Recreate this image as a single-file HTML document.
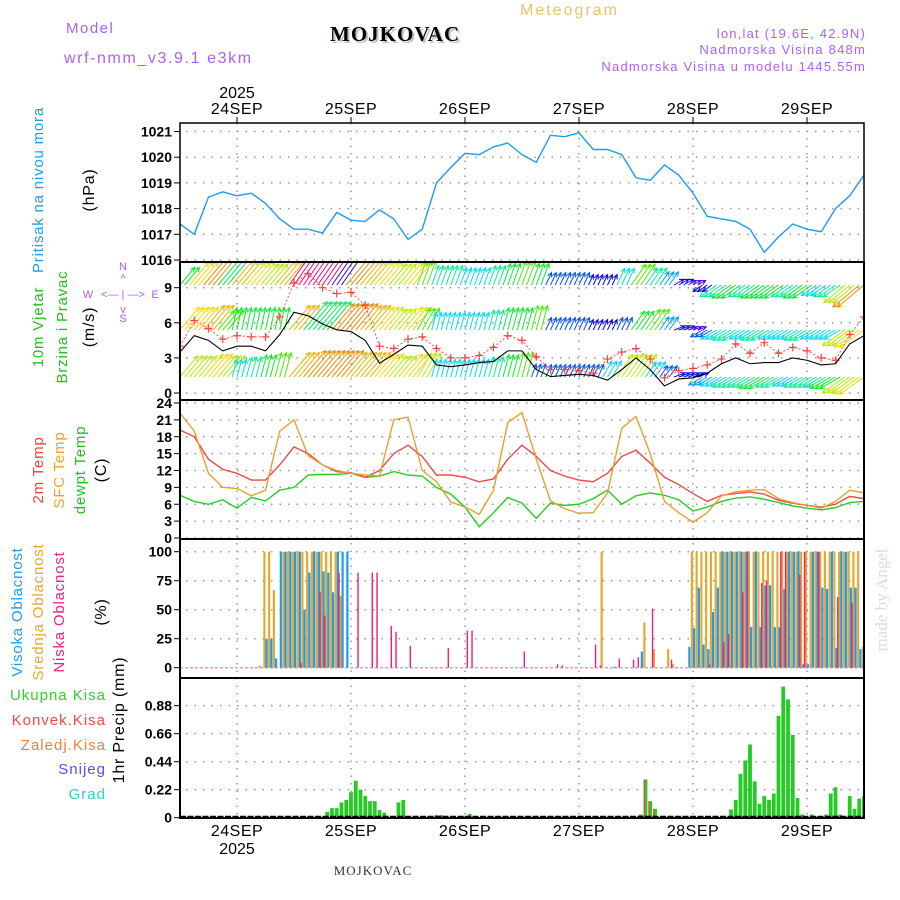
<!DOCTYPE html>
<html><head><meta charset="utf-8">
<style>
html,body{margin:0;padding:0;background:#fff;}
svg{display:block;font-family:"Liberation Sans",sans-serif;}
</style></head>
<body>
<svg id="chart" width="900" height="900" viewBox="0 0 900 900" xmlns="http://www.w3.org/2000/svg">
<defs>
<clipPath id="c1"><rect x="180" y="123" width="684" height="139"/></clipPath>
<clipPath id="c2"><rect x="180" y="262" width="684" height="138"/></clipPath>
<clipPath id="c3"><rect x="180" y="400" width="684" height="139"/></clipPath>
<clipPath id="c4"><rect x="180" y="539" width="684" height="139"/></clipPath>
<clipPath id="c5"><rect x="180" y="678" width="684" height="140"/></clipPath>
</defs>
<text x="66" y="33" font-size="15" fill="#b060f0" letter-spacing="1.5">Model</text>
<text x="64" y="63" font-size="16" fill="#b060f0" letter-spacing="1.6">wrf-nmm_v3.9.1 e3km</text>
<text x="332" y="43" font-family="Liberation Serif,serif" font-weight="bold" font-size="21" fill="#b8c8b8" letter-spacing="1">MOJKOVAC</text>
<text x="330" y="41" font-family="Liberation Serif,serif" font-weight="bold" font-size="21" fill="#000" letter-spacing="1">MOJKOVAC</text>
<text x="520" y="15" font-size="16" fill="#f0c070" letter-spacing="2">Meteogram</text>
<text x="866" y="38" font-size="13" fill="#b060f0" text-anchor="end" letter-spacing="1.2">lon,lat (19.6E, 42.9N)</text>
<text x="866" y="54" font-size="13" fill="#b060f0" text-anchor="end" letter-spacing="1.2">Nadmorska Visina 848m</text>
<text x="866" y="71" font-size="13" fill="#b060f0" text-anchor="end" letter-spacing="1.2">Nadmorska Visina u modelu 1445.55m</text>
<text transform="translate(887,600) rotate(-90)" font-size="17" fill="#d8e0d8" text-anchor="middle" font-family="Liberation Serif,serif">made by Angel</text>
<g id="g"></g>
</svg>
<script>
// ===== data (time axis: hours from 23SEP 12UTC, every 3 h, 0..144) =====
const dayLabels = ["24SEP","25SEP","26SEP","27SEP","28SEP","29SEP"];
const dayHours = [12,36,60,84,108,132];
const pressTicks = [1016,1017,1018,1019,1020,1021];
const windTicks = [0,3,6,9];
const tempTicks = [0,3,6,9,12,15,18,21,24];
const cloudTicks = [0,25,50,75,100];
const precipTicks = [0,0.22,0.44,0.66,0.88];

const pressure = [1017.4,1017.0,1018.45,1018.65,1018.5,1018.6,1018.2,1017.6,1017.2,1017.2,1017.05,1017.85,1017.55,1017.5,1017.95,1017.6,1016.8,1017.2,1019.0,1019.6,1020.15,1020.1,1020.4,1020.55,1020.1,1019.8,1020.85,1020.8,1020.95,1020.3,1020.3,1020.1,1019.2,1019.1,1019.7,1019.3,1018.6,1017.7,1017.6,1017.5,1017.2,1016.3,1016.9,1017.4,1017.2,1017.1,1018.0,1018.5,1019.3];
const windSpeed = [3.5,4.9,4.5,3.6,4.0,4.0,3.6,5.0,6.9,6.6,5.9,5.4,5.25,4.5,2.55,3.3,4.1,4.0,2.4,2.25,2.4,2.6,2.7,3.6,3.6,2.0,1.4,1.5,1.6,1.5,1.1,2.0,3.0,2.0,0.6,1.2,1.3,1.7,2.5,3.0,2.5,2.6,2.6,3.0,2.8,2.4,2.5,4.2,4.9];
const windGust = [4.0,6.2,5.5,4.6,4.9,4.8,4.8,6.5,9.4,10.2,9.0,8.5,8.6,7.5,4.0,3.8,4.6,4.8,3.8,3.0,3.0,3.2,3.9,4.9,4.5,3.1,2.0,2.0,1.9,1.7,2.9,3.5,3.8,2.9,1.3,1.9,2.1,2.4,2.9,4.2,3.4,4.3,3.4,3.9,3.6,3.0,2.8,5.0,6.5];
const row1Speed = [10,13,15,16,14,13,12,14,20,21,20,17,15,14,13,12,13,11,9,9,8,8,9,10,11,10,6,6,6,5,5,8,11,9,7,5,4,5,9,10,9,10,10,9,10,8,9,12,15];
const row1Dir = [40,40,40,40,40,40,40,40,35,35,35,35,40,40,40,40,40,20,20,20,20,20,20,20,20,20,25,25,25,25,25,25,35,35,35,60,60,235,235,235,235,235,235,235,235,235,235,230,230];
const row2Speed = [13,13,14,11,10,10,10,10,14,16,16,15,15,14,13,12,13,11,8,8,8,8,9,10,10,11,6,6,6,5,5,6,10,11,7,5,4,6,8,9,8,9,8,8,9,8,8,12,13];
const row2Dir = [40,40,40,40,12,12,12,12,40,40,40,40,40,40,40,40,40,30,15,15,15,15,15,15,15,15,25,25,25,25,25,25,35,35,35,70,70,240,240,240,240,240,240,240,240,240,240,235,235];
const row3Speed = [12,12,13,12,8,9,10,11,14,15,15,15,14,14,13,12,13,12,8,8,8,8,9,10,11,6,6,6,6,6,8,12,12,8,6,5,5,7,8,9,9,10,9,8,9,9,10,12,13];
const row3Dir = [40,40,40,40,15,15,15,15,40,40,40,40,40,40,40,40,40,30,15,15,15,15,15,15,15,20,25,25,25,25,30,35,35,35,35,70,70,240,240,240,240,240,240,240,240,240,240,235,235];
const temp2m = [19.2,18.0,14.0,12.2,11.5,10.3,10.3,13.0,16.2,15.0,13.0,11.8,11.6,10.8,12.0,15.0,16.5,14.5,11.2,11.2,10.8,10.0,10.5,14.0,16.5,14.5,12.0,11.0,10.3,10.0,11.5,14.5,15.6,13.3,10.8,9.5,7.9,6.5,7.6,7.9,8.2,7.8,6.7,6.2,5.8,5.5,6.0,7.4,7.0];
const tempSfc = [22.2,19.0,11.5,9.0,8.8,7.5,8.5,19.0,21.0,14.6,13.0,12.0,11.5,11.2,11.0,21.0,21.5,12.0,10.0,6.4,5.5,4.2,8.5,20.5,22.3,14.0,6.6,5.2,4.4,4.5,8.0,19.5,21.6,15.0,6.5,4.5,2.8,4.5,7.5,8.2,8.5,8.6,7.0,6.3,5.8,5.3,6.5,8.5,8.0];
const tempDew = [7.6,6.5,6.0,6.8,5.3,7.2,6.6,8.5,9.0,11.2,11.3,11.3,11.5,10.8,11.0,11.8,11.2,11.0,9.0,7.8,5.5,2.0,4.5,7.2,6.2,3.5,6.2,5.8,6.0,7.0,8.5,6.0,7.5,8.0,7.6,6.8,4.8,5.5,6.5,7.1,7.3,6.9,6.3,5.7,5.3,5.0,5.4,6.3,6.5];

const highHours = [18,19,20,21,22,23,24,25,26,27,28,29,30,31,32,33,34,35,97,107,108,109,110,111,112,113,114,115,116,117,118,119,120,121,122,123,124,125,126,127,128,129,130,131,132,133,134,135,136,137,138,139,140,141,142,143];
const highVals  = [25,25,8,100,100,100,100,100,50,82,100,100,83,82,65,100,100,100,14,18,34,69,20,16,48,69,100,100,100,100,100,100,35,100,35,71,71,35,35,68,100,100,100,3,3,100,100,69,68,100,17,100,100,69,69,16];
const midHours = [17,18,19,20,22,23,24,25,26,27,28,29,30,31,32,33,34,89,98,100,103,104,108,109,110,111,112,113,114,115,116,117,118,119,120,121,122,123,124,125,126,127,128,129,130,131,132,133,134,135,136,137,138,139,140,141,142,143,144];
const midVals  = [2,100,100,67,100,100,100,100,100,100,100,100,100,100,100,100,62,100,39,16,16,3,100,100,100,100,100,100,100,100,100,100,100,100,100,100,100,100,100,100,100,100,100,100,100,100,100,100,100,100,100,100,100,100,100,100,100,100,18];
const lowHours = [25,29,30,33,37,40,41,44,45,48,56,60,61,72,79,80,87,88,91,92,95,96,99,103,111,114,115,118,119,122,123,126,127,130,131,134,138,141];
const lowVals  = [4,65,45,82,82,82,82,36,31,19,17,32,32,14,3,2,20,2,1,8,7,9,51,7,3,22,29,65,100,73,75,100,100,80,100,100,61,56];
const precipHours = [31,32,33,34,35,36,37,38,39,40,41,42,43,46,47,54,55,60,61,97,98,99,100,116,117,118,119,120,121,122,123,124,125,126,127,128,129,130,131,133,134,136,137,138,139,140,141,142,143,144];
const precipVals  = [0.045,0.075,0.075,0.12,0.14,0.2,0.29,0.22,0.17,0.13,0.13,0.06,0.04,0.12,0.14,0.02,0.02,0.015,0.03,0.025,0.3,0.13,0.07,0.065,0.14,0.345,0.45,0.575,0.285,0.11,0.17,0.14,0.19,0.8,1.03,0.93,0.65,0.155,0.025,0.025,0.01,0.025,0.19,0.24,0.025,0.01,0.17,0.07,0.15,0.17];
const convHours = [97,98,99,100];
const convVals = [0.025,0.3,0.13,0.07];

// ===== scales =====
const X0 = 180, X1 = 864, PXH = 4.75;
const xh = h => X0 + h * PXH;
const yP = p => 131.5 + (1021 - p) * 25.7;
const yW = v => 393 - v * 11.7;
const yT = t => 538 - t * 5.625;
const yC = c => 667.7 - c * 1.16;
const yR = r => 817.7 - r * 127.3;

const NS = "http://www.w3.org/2000/svg";
const root = document.getElementById("g");
function mk(tag, attrs, parent, txt) {
  const e = document.createElementNS(NS, tag);
  for (const k in attrs) e.setAttribute(k, attrs[k]);
  if (txt !== undefined) e.textContent = txt;
  (parent || root).appendChild(e);
  return e;
}
function grp(clip) { const g = mk("g", clip ? {"clip-path": "url(#" + clip + ")"} : {}); return g; }

const panels = [[123,262],[262,400],[400,539],[539,678],[678,818]];
let el;

// gridlines
const grid = grp();


dayHours.forEach((h) => {
  el = mk("line", {x1: xh(h), x2: xh(h), y1: 123, y2: 818, stroke: "#999", "stroke-width": 1.5, "stroke-dasharray": "1.5,6"}, grid);
  
  
});
function hgrid(ticks, f) {
  ticks.forEach(t => {
    el = mk("line", {x1: X0 + 6, x2: X1 - 2, y1: f(t), y2: f(t), stroke: "#999", "stroke-width": 1.5, "stroke-dasharray": "1.5,7"}, grid);
    
    
  });
}
hgrid(pressTicks, yP); hgrid(windTicks, yW); hgrid(tempTicks, yT); hgrid(cloudTicks.slice(1), yC); hgrid(precipTicks.slice(1), yR);

// y tick labels
function yticks(ticks, f, name, fmt) {
  ticks.forEach(t => {
    el = mk("text", {x: 172, y: f(t) + 5, "font-size": 14, "text-anchor": "end", fill: "#000", "font-weight": "bold"}, root, fmt ? fmt(t) : String(t));
    
    
    el = mk("line", {x1: 174, x2: 180, y1: f(t), y2: f(t), stroke: "#000", "stroke-width": 1}, root);
    
    
  });
}
yticks(pressTicks, yP, "pressure-tick-label");
yticks(windTicks, yW, "wind-tick-label");
yticks(tempTicks, yT, "temp-tick-label");
yticks(cloudTicks, yC, "cloud-tick-label");
yticks(precipTicks, yR, "precip-tick-label", t => t === 0 ? "0" : t.toFixed(2));

// x labels
dayLabels.forEach((d, i) => {
  el = mk("text", {x: xh(dayHours[i]), y: 114, "font-size": 16, "text-anchor": "middle", fill: "#000", "letter-spacing": "0.5"}, root, d);
  
  
  el = mk("text", {x: xh(dayHours[i]), y: 836, "font-size": 16, "text-anchor": "middle", fill: "#000", "letter-spacing": "0.5"}, root, d);
  
  
  el = mk("line", {x1: xh(dayHours[i]), x2: xh(dayHours[i]), y1: 117, y2: 123, stroke: "#000"}, root);
  
  
});
el = mk("text", {x: xh(12), y: 98, "font-size": 16, "text-anchor": "middle", fill: "#000"}, root, "2025");


el = mk("text", {x: xh(12), y: 854, "font-size": 16, "text-anchor": "middle", fill: "#000"}, root, "2025");


el = mk("text", {x: 373, y: 875, "font-size": 13, "text-anchor": "middle", fill: "#333", "font-family": "Liberation Serif,serif", "letter-spacing": "1"}, root, "MOJKOVAC");



// panel side labels
function vlabel(x, y, txt, color, name, size) {
  el = mk("text", {transform: "translate(" + x + "," + y + ") rotate(-90)", "font-size": size || 15, "text-anchor": "middle", fill: color, "letter-spacing": "0.8"}, root, txt);
  
  
}
vlabel(43, 190, "Pritisak na nivou mora", "#1e9cf0", "pressure-title");
vlabel(94, 190, "(hPa)", "#000", "pressure-unit", 16);
vlabel(43, 327, "10m Vjetar", "#20c020", "wind-title-1");
vlabel(67, 327, "Brzina i Pravac", "#20c020", "wind-title-2");
vlabel(94, 327, "(m/s)", "#000", "wind-unit", 16);
vlabel(43, 470, "2m Temp", "#f04040", "temp2m-title");
vlabel(64, 470, "SFC Temp", "#f0a030", "sfc-temp-title");
vlabel(85, 470, "dewpt Temp", "#20c020", "dewpt-title");
vlabel(106, 470, "(C)", "#000", "temp-unit", 16);
vlabel(22, 612, "Visoka Oblacnost", "#1e9cf0", "high-cloud-title");
vlabel(43, 612, "Srednja Oblacnost", "#e8a830", "mid-cloud-title");
vlabel(64, 612, "Niska Oblacnost", "#f0208a", "low-cloud-title");
vlabel(106, 612, "(%)", "#000", "cloud-unit", 16);
vlabel(124, 720, "1hr Precip (mm)", "#000", "precip-unit", 16);
[["Ukupna  Kisa","#30d030",700],["Konvek.Kisa","#f04848",725],["Zaledj.Kisa","#f08040",750],["Snijeg","#5050f0",774],["Grad","#30d0d0",799]].forEach(l => {
  el = mk("text", {x: 106, y: l[2], "font-size": 15, "text-anchor": "end", fill: l[1], "letter-spacing": "1"}, root, l[0]);
  
  
});
// compass
const cp = mk("g", {fill: "#b060f0", "font-size": 11, "text-anchor": "middle"});


mk("text", {x: 123, y: 270}, cp, "N");
mk("text", {x: 123, y: 322}, cp, "S");
mk("text", {x: 88, y: 298}, cp, "W");
mk("text", {x: 155, y: 298}, cp, "E");
mk("text", {x: 123, y: 298}, cp, "<— | —>");
mk("text", {x: 123, y: 282}, cp, "^");
mk("text", {x: 123, y: 313}, cp, "v");

// ===== Panel 1: pressure =====
const g1 = grp("c1");
el = mk("polyline", {points: pressure.map((p, i) => xh(i * 3) + "," + yP(p)).join(" "), fill: "none", stroke: "#1e9cf0", "stroke-width": 1.4}, g1);



// ===== Panel 2: wind =====
const g2 = grp("c2");
function hueFor(s) {
  const st = [[3,275],[5,240],[7,200],[8,185],[10,130],[12,75],[13,55],[15,35],[18,355],[21,320]];
  if (s <= st[0][0]) return st[0][1];
  for (let k = 1; k < st.length; k++) {
    if (s <= st[k][0]) { const a = st[k-1], b = st[k]; return a[1] + (b[1] - a[1]) * (s - a[0]) / (b[0] - a[0]); }
  }
  return 320;
}
function arrowRow(spd, dir, baseY, name) {
  const rg = mk("g", {}, g2);
  
  
  for (let j = 0; j <= 144; j++) {
    const i = Math.min(Math.floor(j / 3 + 0.5), 48);
    const s = spd[i], th = dir[i] * Math.PI / 180, L = s * 2.3;
    const x0 = xh(j), y0 = baseY, x1 = x0 + Math.sin(th) * L, y1 = y0 - Math.cos(th) * L;
    const col = "hsl(" + hueFor(s) + ",95%,48%)";
    const a1 = th + Math.PI - 0.45, a2 = th + Math.PI + 0.45;
    const d = "M" + x0 + "," + y0 + "L" + x1 + "," + y1 + "M" + (x1 + Math.sin(a1) * 5) + "," + (y1 - Math.cos(a1) * 5) + "L" + x1 + "," + y1 + "L" + (x1 + Math.sin(a2) * 5) + "," + (y1 - Math.cos(a2) * 5);
    el = mk("path", {d: d, stroke: col, "stroke-width": 1, fill: "none"}, rg);
    
    
  }
}
arrowRow(row1Speed, row1Dir, 285, "wind-arrows-upper");
arrowRow(row2Speed, row2Dir, 330, "wind-arrows-middle");
arrowRow(row3Speed, row3Dir, 377, "wind-arrows-lower");
el = mk("polyline", {points: windGust.map((v, i) => xh(i * 3) + "," + yW(v)).join(" "), fill: "none", stroke: "#ff5050", "stroke-width": 1, "stroke-dasharray": "2,2"}, g2);


windGust.forEach((v, i) => {
  const x = xh(i * 3), y = yW(v);
  el = mk("path", {d: "M" + (x - 4) + "," + y + "H" + (x + 4) + "M" + x + "," + (y - 4) + "V" + (y + 4), stroke: "#ff4040", "stroke-width": 1.2}, g2);
  
  
});
el = mk("polyline", {points: windSpeed.map((v, i) => xh(i * 3) + "," + yW(v)).join(" "), fill: "none", stroke: "#000", "stroke-width": 1.1}, g2);



// ===== Panel 3: temperature =====
const g3 = grp("c3");
[[tempDew, "#20d020", "dewpoint-line"], [temp2m, "#f04848", "temp-2m-line"], [tempSfc, "#eaa030", "sfc-temp-line"]].forEach(s => {
  el = mk("polyline", {points: s[0].map((t, i) => xh(i * 3) + "," + yT(t)).join(" "), fill: "none", stroke: s[1], "stroke-width": 1.4}, g3);
  
  
});

// ===== Panel 4: cloud =====
const g4 = grp("c4");
el = mk("line", {x1: X0, x2: X1, y1: yC(0), y2: yC(0), stroke: "#e89cc0", "stroke-width": 1.5, "stroke-dasharray": "3,2"}, g4);


midHours.forEach((h, i) => {
  el = mk("rect", {x: xh(h) - 2.2, y: yC(midVals[i]), width: 2.2, height: yC(0) - yC(midVals[i]), fill: "#e8a830"}, g4);
  
  
});
highHours.forEach((h, i) => {
  el = mk("rect", {x: xh(h), y: yC(highVals[i]), width: 2.2, height: yC(0) - yC(highVals[i]), fill: "#1e9cf0"}, g4);
  
  
});
lowHours.forEach((h, i) => {
  el = mk("rect", {x: xh(h) + 1.6, y: yC(lowVals[i]), width: 1.4, height: yC(0) - yC(lowVals[i]), fill: "#f0207a"}, g4);
  
  
});

// ===== Panel 5: precip =====
const g5 = grp("c5");
precipHours.forEach((h, i) => {
  el = mk("rect", {x: xh(h) - 1.9, y: yR(precipVals[i]), width: 3.8, height: yR(0) - yR(precipVals[i]), fill: "#22cc22"}, g5);
  
  
});
convHours.forEach((h, i) => {
  el = mk("rect", {x: xh(h) - 1.9, y: yR(convVals[i]), width: 1.3, height: yR(0) - yR(convVals[i]), fill: "#f04848"}, g5);
  
  
});
el = mk("line", {x1: X0, x2: X1, y1: 817, y2: 817, stroke: "#000", "stroke-width": 2.5, "stroke-dasharray": "6,1.5"}, root);



// panel frames
panels.forEach((p, i) => {
  el = mk("rect", {x: X0, y: p[0], width: X1 - X0, height: p[1] - p[0], fill: "none", stroke: "#000", "stroke-width": i === 0 ? 1.5 : 2}, root);
  
  
});
</script>
</body></html>
